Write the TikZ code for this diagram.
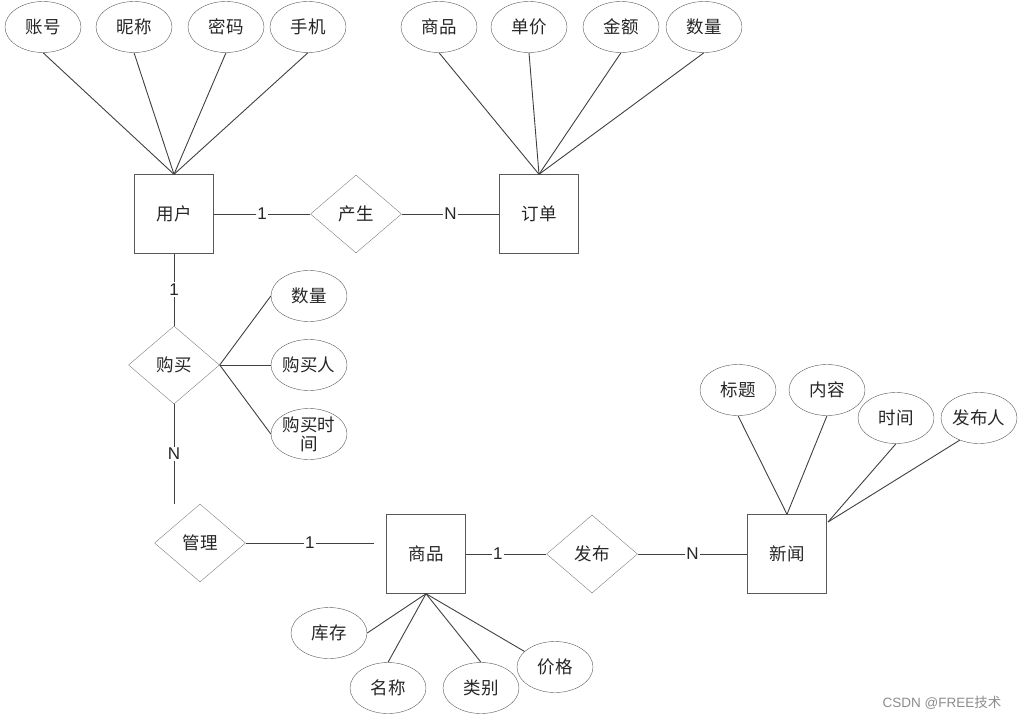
\documentclass[tikz,border=0pt]{standalone}
\usepackage{fontspec}
\setmainfont{Noto Sans CJK SC}
\newfontfamily\lab{Liberation Sans}
\usetikzlibrary{shapes.geometric}

\begin{document}
\begin{tikzpicture}[x=1pt,y=-1pt,
    every node/.style={font=\fontsize{17.5}{19}\selectfont,text=black!85},
    ent/.style={draw=black!65,rectangle,minimum size=79pt,inner sep=0pt},
    attr/.style={draw=black!65,ellipse,minimum width=76pt,minimum height=51pt,
      inner sep=0pt,align=center},
    rel/.style={draw=black!50,diamond,minimum width=91pt,minimum height=78pt,inner sep=0pt},
    card/.style={fill=white,inner sep=1.5pt,font=\lab\fontsize{17}{19}\selectfont},
    link/.style={draw=black!75,line width=0.9pt}]
  \useasboundingbox (0,0) rectangle (1022,720);

  % entities and relations
  \node[ent] (yh) at (174,214) {用户};
  \node[ent] (dd) at (539,214) {订单};
  \node[ent] (sp) at (426,554) {商品};
  \node[ent] (xw) at (787,554) {新闻};
  \node[rel] (cs) at (356,214) {产生};
  \node[rel] (gm) at (174,365) {购买};
  \node[rel] (gl) at (200,543) {管理};
  \node[rel] (fb) at (592,554) {发布};

  % attributes
  \node[attr] (zh) at (43,27) {账号};
  \node[attr] (nc) at (134,27) {昵称};
  \node[attr] (mm) at (226,27) {密码};
  \node[attr] (sj) at (308,27) {手机};
  \node[attr] (ddsp) at (439,27) {商品};
  \node[attr] (dj) at (529,27) {单价};
  \node[attr] (je) at (621,27) {金额};
  \node[attr] (ddsl) at (704,27) {数量};
  \node[attr] (gmsl) at (309,296) {数量};
  \node[attr] (gmr) at (309,365) {购买人};
  \node[attr] (gmsj) at (309,434) {购买时\\间};
  \node[attr] (kc) at (329,633) {库存};
  \node[attr] (mc) at (388,688) {名称};
  \node[attr] (lb) at (481,688) {类别};
  \node[attr] (jg) at (555,667) {价格};
  \node[attr] (bt) at (738,390) {标题};
  \node[attr] (nr) at (827,390) {内容};
  \node[attr] (sjj) at (896,418) {时间};
  \node[attr] (fbr) at (979,418) {发布人};

  \coordinate (gmend) at (174,504);
  \coordinate (glend) at (374,543);
  \coordinate (xwr) at (828,522);

  % connectors
  \draw[link] (yh) -- node[card] {1} (cs);
  \draw[link] (cs) -- node[card] {N} (dd);
  \foreach \a in {zh,nc,mm,sj} \draw[link] (\a.south) -- (yh.north);
  \foreach \a in {ddsp,dj,je,ddsl} \draw[link] (\a.south) -- (dd.north);
  \draw[link] (yh) -- node[card] {1} (gm);
  \foreach \a in {gmsl,gmr,gmsj} \draw[link] (gm.east) -- (\a.west);
  \draw[link] (gm.south) -- node[card] {N} (gmend);
  \draw[link] (gl.east) -- node[card] {1} (glend);
  \draw[link] (sp) -- node[card,pos=0.4] {1} (fb);
  \draw[link] (fb) -- node[card] {N} (xw);
  \foreach \a in {kc.east,mc.north,lb.north,jg.153} \draw[link] (sp.south) -- (\a);
  \draw[link] (bt.south) -- (xw.north);
  \draw[link] (nr.south) -- (xw.north);
  \draw[link] (sjj.south) -- (xwr);
  \draw[link] (fbr.229) -- (xwr);

  \node[font=\fontsize{13.5}{15}\selectfont,text=black!45] (wm) at (942,703)
    {{\lab CSDN @FREE}技术};
\end{tikzpicture}
\end{document}
